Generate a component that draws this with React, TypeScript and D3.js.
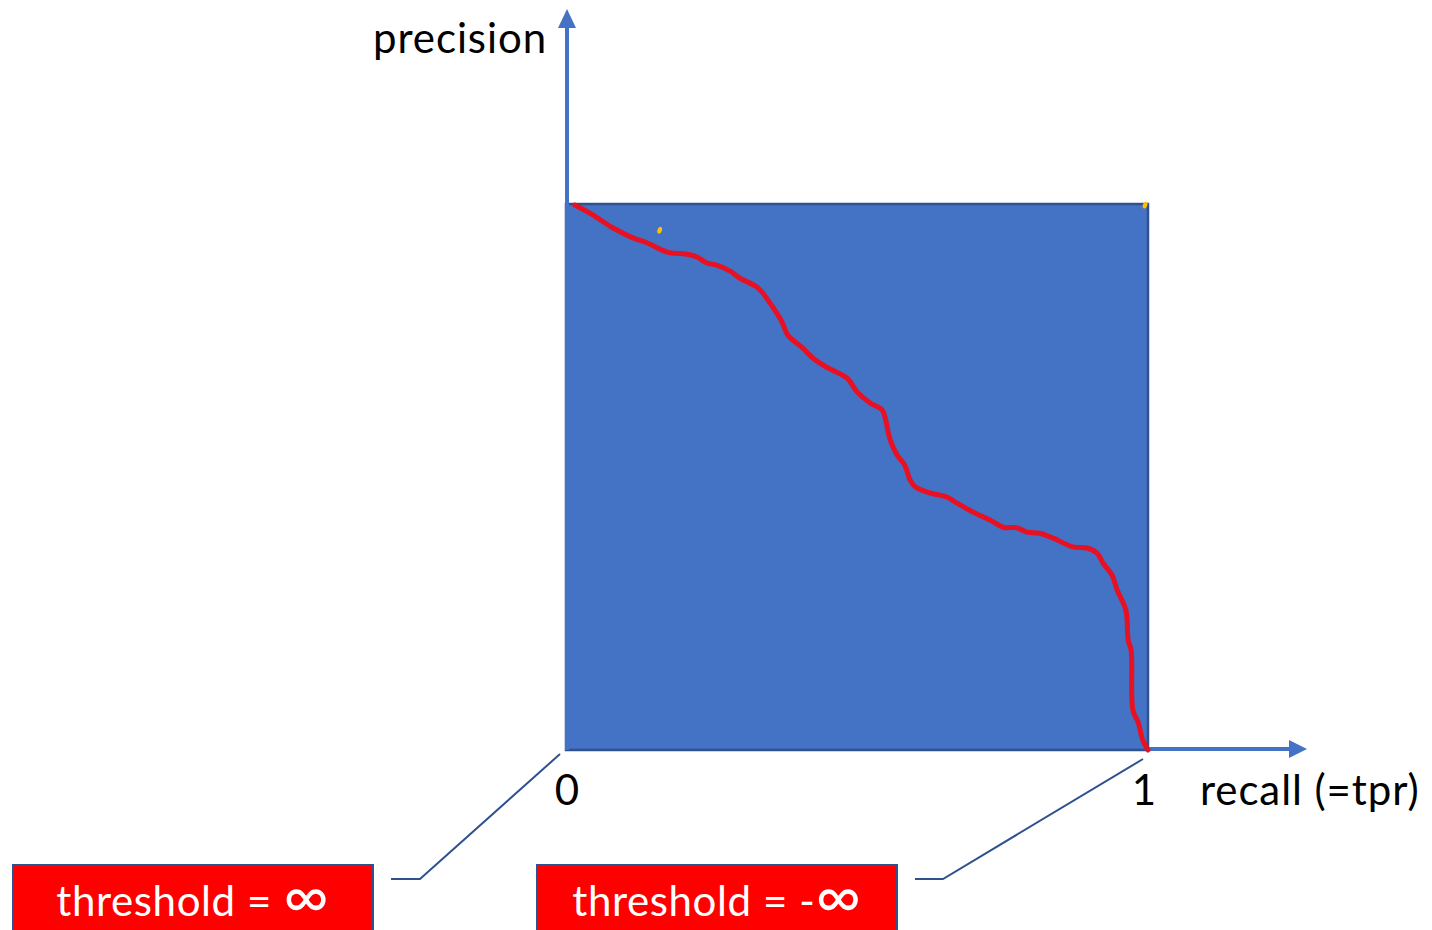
import React from "react";
import * as d3 from "d3";

const recall = [0.015, 0.046, 0.081, 0.115, 0.139, 0.174, 0.208, 0.225, 0.242, 0.259, 0.282, 0.299, 0.328, 0.338, 0.356, 0.371, 0.381, 0.407, 0.424, 0.448, 0.483, 0.5, 0.522, 0.543, 0.548, 0.557, 0.569, 0.582, 0.591, 0.6, 0.625, 0.655, 0.672, 0.699, 0.729, 0.751, 0.775, 0.792, 0.814, 0.837, 0.871, 0.895, 0.912, 0.923, 0.938, 0.947, 0.962, 0.966, 0.971, 0.974, 0.983, 0.991, 1.0];
const precision = [0.998, 0.98, 0.956, 0.938, 0.929, 0.912, 0.908, 0.903, 0.892, 0.888, 0.877, 0.864, 0.848, 0.837, 0.81, 0.784, 0.76, 0.736, 0.718, 0.701, 0.681, 0.656, 0.636, 0.623, 0.61, 0.568, 0.54, 0.522, 0.495, 0.482, 0.471, 0.463, 0.452, 0.436, 0.421, 0.408, 0.407, 0.399, 0.397, 0.388, 0.372, 0.37, 0.361, 0.342, 0.321, 0.293, 0.256, 0.201, 0.183, 0.073, 0.051, 0.018, 0.0];

const xTicks = [0, 1];
const xTickLabels = ["0", "1"];
const xAxisTitle = "recall (=tpr)";
const yAxisTitle = "precision";
const calloutPrefixes = ["threshold = ", "threshold = -"];
const calloutSymbol = "\u221E";
const calloutRecall = [0, 1];
const dotsRecall = [0.161, 0.995];
const dotsPrecision = [0.952, 0.998];

const W = 1432;
const H = 930;
const FONT = "Lato, 'Open Sans', sans-serif";
const BLUE = "#4472C4";
const DARK = "#2F528F";

export default function App() {
  const x = d3.scaleLinear().domain([0, 1]).range([566, 1148]);
  const y = d3.scaleLinear().domain([0, 1]).range([750, 204]);

  const pts: [number, number][] = recall.map((r, i) => [r, precision[i]]);
  const line = d3
    .line<[number, number]>()
    .x((d) => x(d[0]))
    .y((d) => y(d[1]))
    .curve(d3.curveCatmullRom.alpha(0.5));

  const x0 = x(0);
  const x1 = x(1);
  const y0 = y(0);
  const y1 = y(1);

  const boxes = [
    { bx: 13, bw: 360, tx: 193, lineEnd: [391, 879], lineMid: [420, 879], lineStart: [560, 754] },
    { bx: 537, bw: 360, tx: 717, lineEnd: [915, 879], lineMid: [943, 879], lineStart: [1143, 759] },
  ];

  return (
    <svg
      width={W}
      height={H}
      style={{ position: "absolute", left: 0, top: 0, background: "#fff" }}
      fontFamily={FONT}
    >
      {/* square */}
      <rect x={x0} y={y1} width={x1 - x0} height={y0 - y1} fill={BLUE} stroke={DARK} strokeWidth={2.5} />

      {/* y axis arrow */}
      <line x1={x0 + 1} y1={y0} x2={x0 + 1} y2={26} stroke={BLUE} strokeWidth={4} />
      <path d={`M${x0 + 1 - 9},${28} L${x0 + 1},${9} L${x0 + 1 + 9},${28} Z`} fill={BLUE} />

      {/* x axis arrow */}
      <line x1={x1} y1={y0 - 1} x2={1292} y2={y0 - 1} stroke={BLUE} strokeWidth={4} />
      <path d={`M1289,${y0 - 1 - 9} L1307,${y0 - 1} L1289,${y0 - 1 + 9} Z`} fill={BLUE} />

      {/* PR curve */}
      <path d={line(pts) || ""} fill="none" stroke="#E81123" strokeWidth={5} strokeLinejoin="round" strokeLinecap="round" />

      {/* stray dots */}
      {dotsRecall.map((r, i) => (
        <ellipse key={i} cx={x(r)} cy={y(dotsPrecision[i])} rx={2.2} ry={3.5} fill="#FFC000" transform={`rotate(20 ${x(r)} ${y(dotsPrecision[i])})`} />
      ))}

      {/* axis titles */}
      <text x={547} y={53} textAnchor="end" fontSize={42} letterSpacing={0.9} fill="#000">{yAxisTitle}</text>
      {xTicks.map((t, i) => (
        <text key={i} x={x(t) + (i === 0 ? 1 : -4)} y={805} textAnchor="middle" fontSize={42} fill="#000">{xTickLabels[i]}</text>
      ))}
      <text x={1200} y={805} fontSize={42} letterSpacing={0.9} fill="#000">{xAxisTitle}</text>

      {/* callouts */}
      {boxes.map((b, i) => (
        <g key={i}>
          <polyline
            points={`${b.lineStart[0]},${b.lineStart[1]} ${b.lineMid[0]},${b.lineMid[1]} ${b.lineEnd[0]},${b.lineEnd[1]}`}
            fill="none"
            stroke={DARK}
            strokeWidth={2}
          />
          <rect x={b.bx} y={865} width={b.bw} height={80} fill="#FF0000" stroke={DARK} strokeWidth={2} />
          <text x={b.tx} y={916} textAnchor="middle" fontSize={42} letterSpacing={0.6} fill="#fff" data-recall={calloutRecall[i]}>
            {calloutPrefixes[i]}
            <tspan fontSize={62} dy={2}>{calloutSymbol}</tspan>
          </text>
        </g>
      ))}
    </svg>
  );
}
